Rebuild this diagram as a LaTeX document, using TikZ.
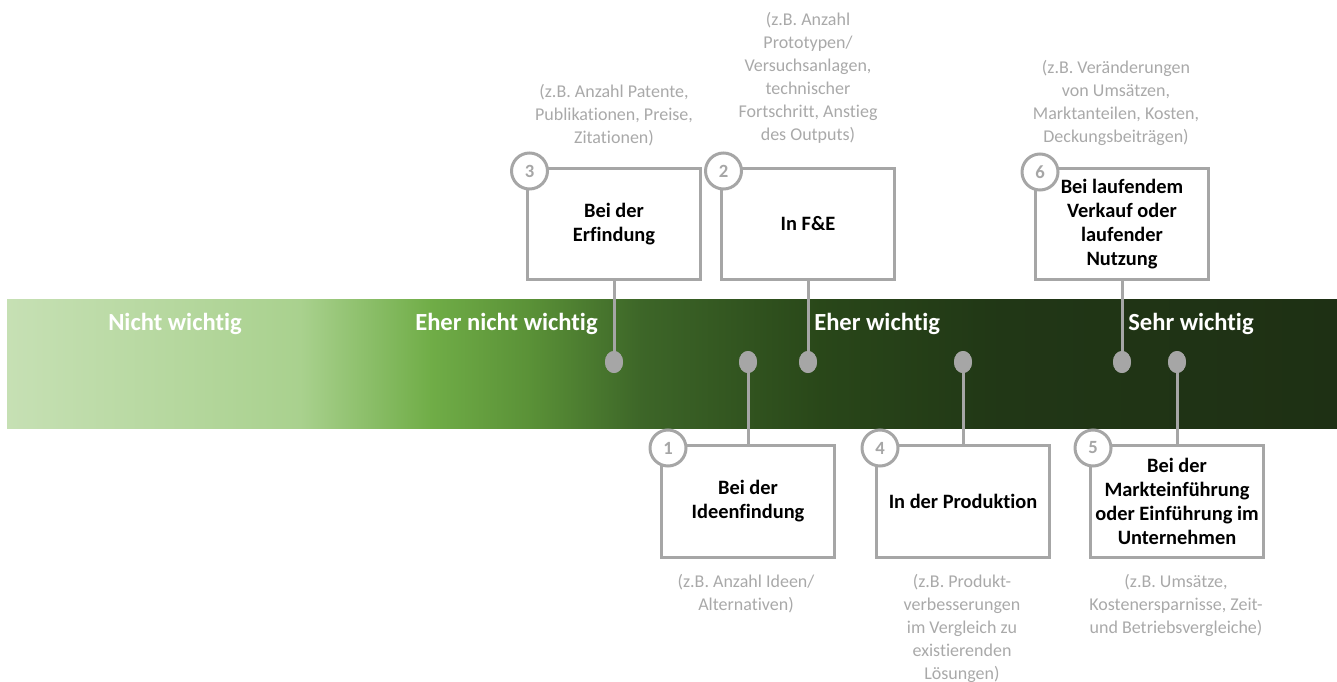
\documentclass[tikz,border=0pt]{standalone}
\usepackage{fontspec}
\setmainfont{Carlito}[Ligatures={NoCommon,NoRare,NoDiscretionary}]
\usetikzlibrary{shapes.geometric}
\definecolor{lg}{HTML}{A6A6A6}
\definecolor{gt}{HTML}{A9A9A9}
\definecolor{g1}{HTML}{C6E0B4}
\definecolor{g2}{HTML}{A9D18E}
\definecolor{g3}{HTML}{70AD47}
\definecolor{g4}{HTML}{5A9137}
\definecolor{g5}{HTML}{3D6628}
\definecolor{g6}{HTML}{294719}
\definecolor{g7}{HTML}{213716}
\definecolor{g8}{HTML}{1E3014}
\tikzset{
  stagebox/.style={draw=lg, line width=2.25pt, fill=white, minimum width=129.75pt, minimum height=83.5pt, inner sep=1pt, align=center, font=\fontsize{15.3}{18}\selectfont\bfseries},
  numcirc/.style={circle, draw=lg, line width=2.25pt, fill=white, minimum size=27pt, inner sep=0pt, text=lg, font=\fontsize{14}{16}\selectfont\bfseries},
  dotmark/.style={ellipse, fill=lg, minimum width=13.5pt, minimum height=16.5pt, inner sep=0pt},
  conn/.style={draw=lg, line width=2.25pt},
  note/.style={text=gt, align=center, font=\fontsize{13.5}{17.25}\selectfont, inner sep=0pt},
  barlabel/.style={text=white, anchor=base west, inner sep=0pt, font=\fontsize{18.45}{22}\selectfont\bfseries}
}
\begin{document}
\begin{tikzpicture}[x=0.75pt,y=-0.75pt]
\useasboundingbox (0,0) rectangle (1337,681);
% gradient bar
\shade[left color=g1, right color=g2] (7,299) rectangle (301,428);
\shade[left color=g2, right color=g3] (300,299) rectangle (431,428);
\shade[left color=g3, right color=g4] (430,299) rectangle (531,428);
\shade[left color=g4, right color=g5] (530,299) rectangle (641,428);
\shade[left color=g5, right color=g6] (640,299) rectangle (821,428);
\shade[left color=g6, right color=g7] (820,299) rectangle (1001,428);
\shade[left color=g7, right color=g8] (1000,299) rectangle (1337,428);
% bar labels
\node[barlabel] (l1) at (108,330) {Nicht wichtig};
\node[barlabel] (l2) at (415,330) {Eher nicht wichtig};
\node[barlabel] (l3) at (814,330) {Eher wichtig};
\node[barlabel] (l4) at (1128,330) {Sehr wichtig};
% boxes
\node[stagebox] (b3) at (614,224) {Bei der\\Erfindung};
\node[stagebox] (b2) at (808,224) {In F\&E};
\node[stagebox] (b6) at (1122,224) {Bei laufendem\\Verkauf oder\\laufender\\Nutzung};
\node[stagebox] (b1) at (748,501.5) {Bei der\\Ideenfindung};
\node[stagebox] (b4) at (963,501.5) {In der Produktion};
\node[stagebox] (b5) at (1177,501.5) {Bei der\\Markteinführung\\oder Einführung im\\Unternehmen};
% dots
\node[dotmark] (d3) at (614,362) {};
\node[dotmark] (d1) at (748,362) {};
\node[dotmark] (d2) at (808,362) {};
\node[dotmark] (d4) at (963,362) {};
\node[dotmark] (d6) at (1122,362) {};
\node[dotmark] (d5) at (1177,362) {};
% connectors
\draw[conn] (b3.south) -- (d3.center);
\draw[conn] (b2.south) -- (d2.center);
\draw[conn] (b6.south) -- (d6.center);
\draw[conn] (b1.north) -- (d1.center);
\draw[conn] (b4.north) -- (d4.center);
\draw[conn] (b5.north) -- (d5.center);
\node[dotmark] at (d3) {};
\node[dotmark] at (d1) {};
\node[dotmark] at (d2) {};
\node[dotmark] at (d4) {};
\node[dotmark] at (d6) {};
\node[dotmark] at (d5) {};
% numbered circles
\node[numcirc] (c3) at (529.5,171) {3};
\node[numcirc] (c2) at (723.5,171) {2};
\node[numcirc] (c6) at (1040,172) {6};
\node[numcirc] (c1) at (668,448) {1};
\node[numcirc] (c4) at (880,448) {4};
\node[numcirc] (c5) at (1093,448) {5};
% notes
\node[note] (n3) at (614,115) {(z.B. Anzahl Patente,\\Publikationen, Preise,\\Zitationen)};
\node[note] (n2) at (808,77.5) {(z.B. Anzahl\\Prototypen/\\Versuchsanlagen,\\technischer\\Fortschritt, Anstieg\\des Outputs)};
\node[note] (n6) at (1116,102.5) {(z.B. Veränderungen\\von Umsätzen,\\Marktanteilen, Kosten,\\Deckungsbeiträgen)};
\node[note] (n1) at (746,593.5) {(z.B. Anzahl Ideen/\\Alternativen)};
\node[note] (n4) at (962,628) {(z.B. Produkt-\\verbesserungen\\im Vergleich zu\\existierenden\\Lösungen)};
\node[note] (n5) at (1176,605) {(z.B. Umsätze,\\Kostenersparnisse, Zeit-\\und Betriebsvergleiche)};
\end{tikzpicture}
\end{document}
